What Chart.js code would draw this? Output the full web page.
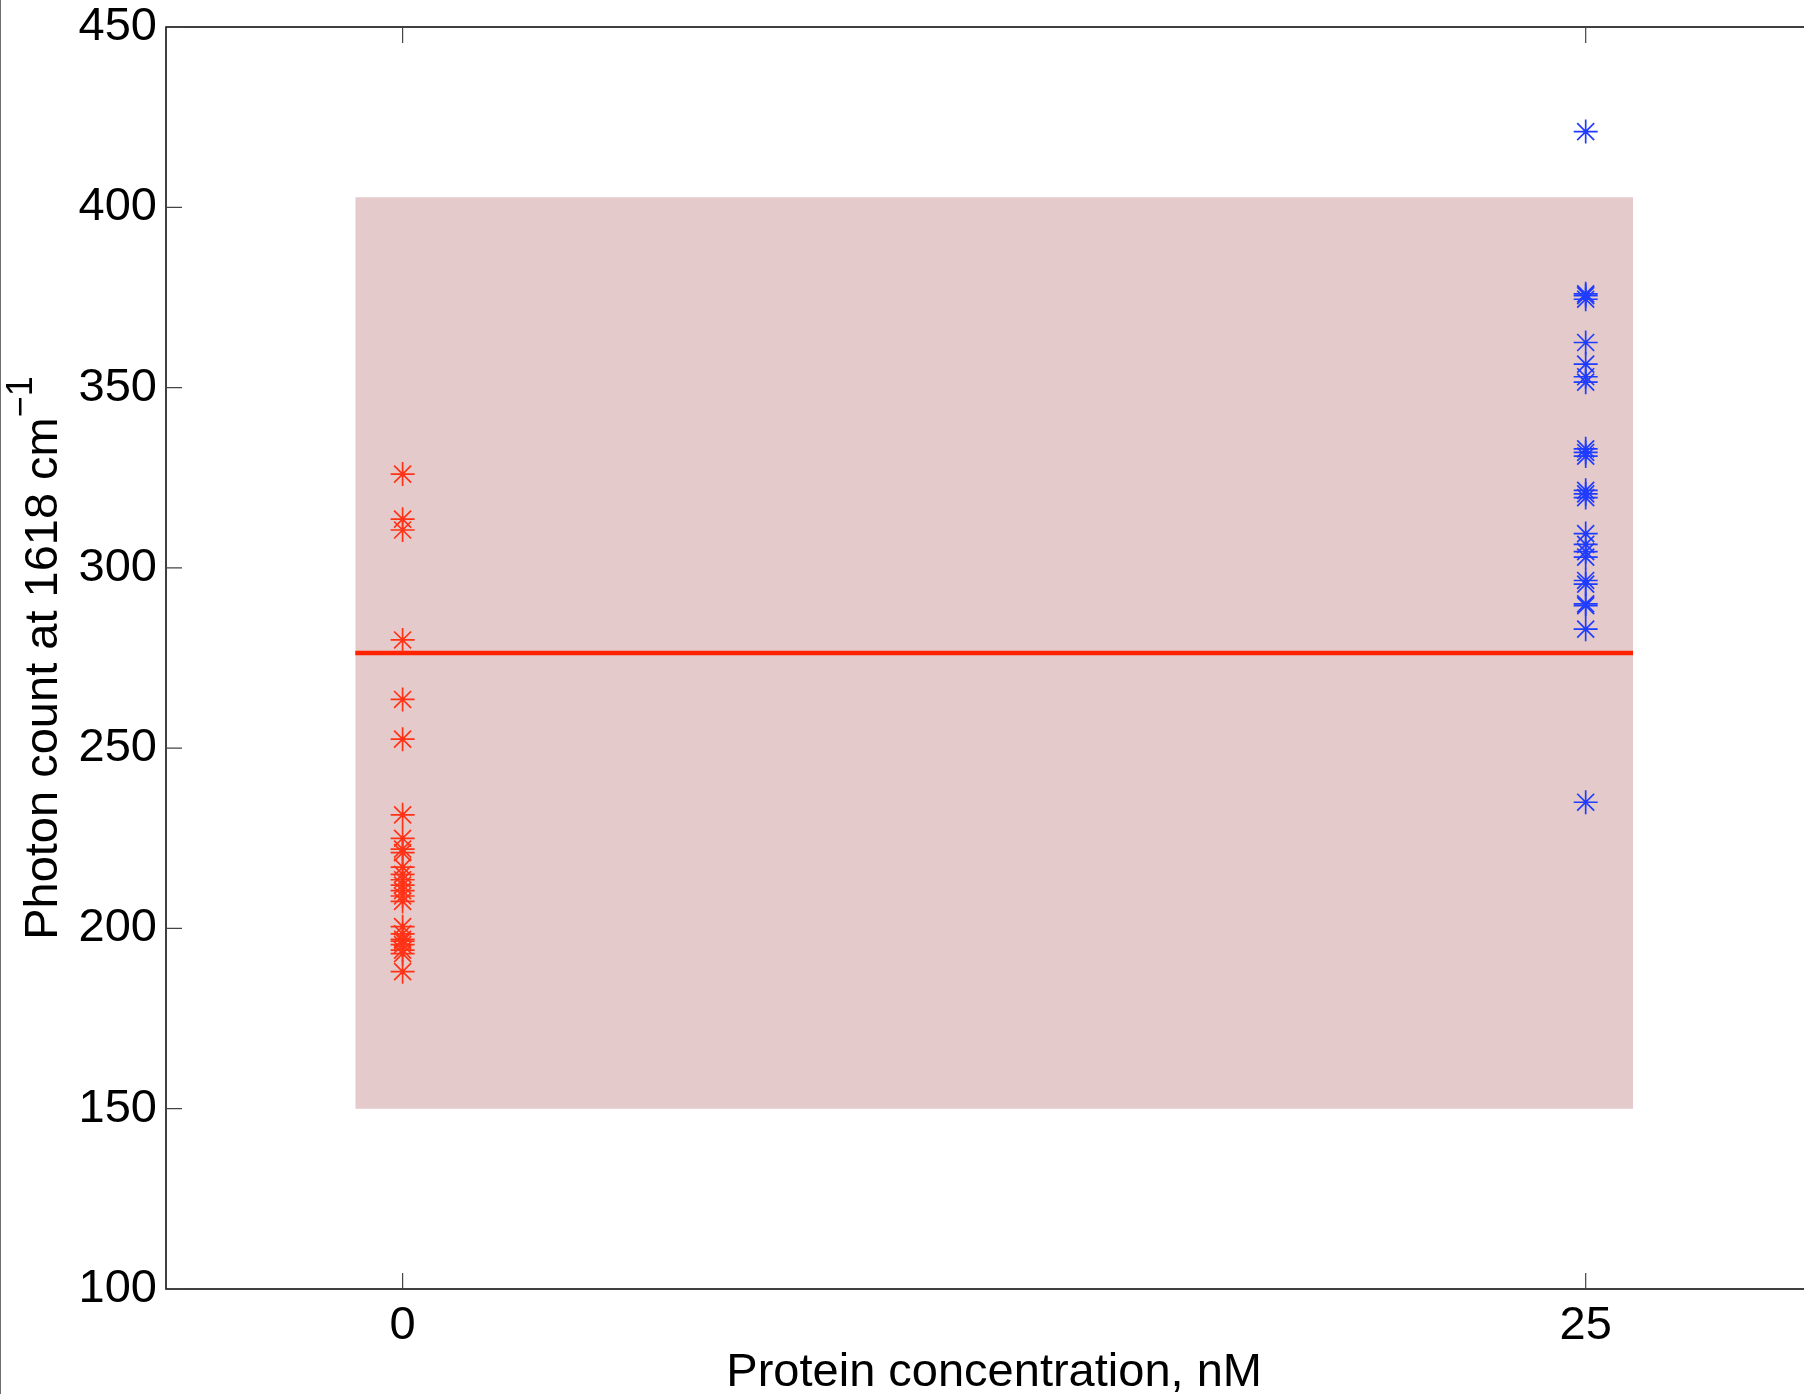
<!DOCTYPE html>
<html lang="en">
<head>
  <meta charset="UTF-8">
  <title>Photon count vs protein concentration</title>
  <script src="https://cdn.jsdelivr.net/npm/chart.js"></script>
  <style>
    html, body {
      margin: 0;
      padding: 0;
      background: #fff;
      overflow: hidden;
    }
    .wrap {
      position: relative;
      width: 1804px;
      height: 1394px;
      overflow: hidden;
    }
    canvas {
      display: block;
    }
    .edge {
      position: absolute;
      left: 0;
      top: 0;
      bottom: 0;
      width: 1px;
      background: #6e6e6e;
    }
  </style>
</head>
<body>
  <div class="wrap">
    <canvas id="chart" width="1836" height="1400"></canvas>
    <div class="edge"></div>
  </div>

  <script>
    // values
    const redConc = 0;
    const redCounts = [326, 313.5, 310.5, 280, 263.5, 252.5, 231.5, 225, 222, 221,
      217, 215, 213.5, 212, 210.5, 209, 207.5, 200.5, 198.5, 197, 196.5, 195.5, 194, 193, 188];
    const blueConc = 25;
    const blueCounts = [421, 376, 375.5, 374.5, 362.5, 356.5, 353, 351.5, 333, 332, 331,
      321.5, 320.5, 319.5, 309.5, 306.5, 304.5, 303, 296.5, 295.5, 290, 289.5, 283, 235];
    const meanCount = 276.4;
    const bandX = [-1, 26];
    const bandY = [150, 402.8];
    const xRange = [-5, 30];
    const yRange = [100, 450];
    const xTicks = [0, 25];
    const yTicks = [100, 150, 200, 250, 300, 350, 400, 450];
    const xTitle = 'Protein concentration, nM';
    const yTitle = 'Photon count at 1618 cm';
    const yTitleSup = '\u22121';

    const FONT = '"Liberation Sans", Helvetica, Arial, sans-serif';
    const tickLen = 16;

    // MATLAB-ish box with inward ticks, plus the y label with its superscript
    const matlabAxes = {
      id: 'matlabAxes',
      afterDraw(chart) {
        const { ctx, chartArea: a, scales: { x, y } } = chart;
        ctx.save();
        ctx.strokeStyle = '#000';
        ctx.lineWidth = 1.5;
        ctx.strokeRect(a.left, a.top, a.right - a.left, a.bottom - a.top);

        ctx.strokeStyle = '#444';
        ctx.lineWidth = 1.2;
        ctx.beginPath();
        x.ticks.forEach(t => {
          const px = x.getPixelForValue(t.value);
          ctx.moveTo(px, a.bottom); ctx.lineTo(px, a.bottom - tickLen);
          ctx.moveTo(px, a.top); ctx.lineTo(px, a.top + tickLen);
        });
        y.ticks.forEach(t => {
          const py = y.getPixelForValue(t.value);
          ctx.moveTo(a.left, py); ctx.lineTo(a.left + tickLen, py);
          ctx.moveTo(a.right, py); ctx.lineTo(a.right - tickLen, py);
        });
        ctx.stroke();

        // y title
        ctx.translate(57, (a.top + a.bottom) / 2);
        ctx.rotate(-Math.PI / 2);
        ctx.fillStyle = '#000';
        ctx.textBaseline = 'alphabetic';
        ctx.textAlign = 'left';
        ctx.font = '47px ' + FONT;
        const w1 = ctx.measureText(yTitle).width;
        ctx.font = '36px ' + FONT;
        const w2 = ctx.measureText(yTitleSup).width;
        const x0 = -(w1 + w2) / 2;
        ctx.font = '47px ' + FONT;
        ctx.fillText(yTitle, x0, 0);
        ctx.font = '36px ' + FONT;
        ctx.fillText(yTitleSup, x0 + w1, -25);
        ctx.restore();
      }
    };

    new Chart(document.getElementById('chart'), {
      type: 'scatter',
      data: {
        datasets: [
          {
            label: 'red',
            data: redCounts.map(v => ({ x: redConc, y: v })),
            pointStyle: 'star',
            pointRadius: 12,
            borderColor: '#ff3216',
            borderWidth: 1.7,
            order: 0
          },
          {
            label: 'blue',
            data: blueCounts.map(v => ({ x: blueConc, y: v })),
            pointStyle: 'star',
            pointRadius: 12,
            borderColor: '#1f3cff',
            borderWidth: 1.7,
            order: 0
          },
          {
            label: 'mean',
            type: 'line',
            data: bandX.map(v => ({ x: v, y: meanCount })),
            showLine: true,
            borderColor: '#ff2200',
            borderWidth: 4.5,
            pointRadius: 0,
            order: 1
          },
          {
            label: 'band',
            type: 'line',
            data: bandX.map(v => ({ x: v, y: bandY[1] })),
            showLine: true,
            borderWidth: 0,
            borderColor: 'rgba(0,0,0,0)',
            backgroundColor: '#e5cacb',
            fill: { value: bandY[0] },
            pointRadius: 0,
            order: 2
          }
        ]
      },
      options: {
        responsive: false,
        animation: false,
        layout: { padding: { top: 27, right: 5, left: 0, bottom: 0 } },
        plugins: {
          legend: { display: false },
          tooltip: { enabled: false }
        },
        scales: {
          x: {
            type: 'linear',
            min: xRange[0],
            max: xRange[1],
            afterBuildTicks: s => { s.ticks = xTicks.map(v => ({ value: v })); },
            afterFit: s => { s.height = 111; s.paddingLeft = 0; s.paddingRight = 0; },
            grid: { display: false, drawTicks: false },
            border: { display: false },
            ticks: {
              color: '#000',
              padding: 9,
              maxRotation: 0,
              font: { family: FONT, size: 47 }
            },
            title: {
              display: true,
              text: xTitle,
              color: '#000',
              padding: { top: 0, bottom: -1 },
              font: { family: FONT, size: 47 }
            }
          },
          y: {
            min: yRange[0],
            max: yRange[1],
            afterBuildTicks: s => { s.ticks = yTicks.map(v => ({ value: v })); },
            afterFit: s => { s.width = 166; s.paddingTop = 0; s.paddingBottom = 0; },
            grid: { display: false, drawTicks: false },
            border: { display: false },
            ticks: {
              color: '#000',
              padding: 9,
              font: { family: FONT, size: 47 }
            }
          }
        }
      },
      plugins: [matlabAxes]
    });
  </script>
</body>
</html>
